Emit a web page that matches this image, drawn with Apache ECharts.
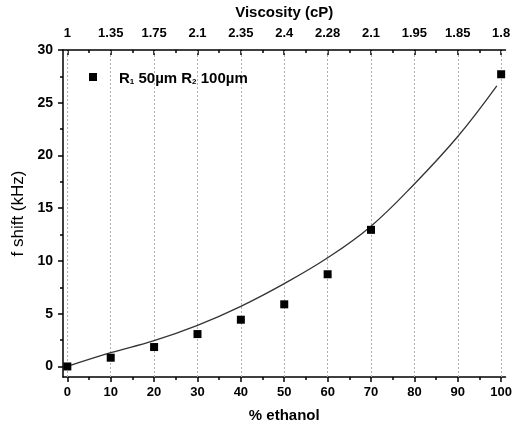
<!DOCTYPE html>
<html>
<head>
<meta charset="utf-8">
<script src="https://cdn.jsdelivr.net/npm/echarts@6/dist/echarts.min.js"></script>
<style>
html,body{margin:0;padding:0;background:#fff;}
#chart{width:515px;height:428px;}
</style>
</head>
<body>
<div id="chart"></div>
<script>
// ---- data ----
const ethanolTicks = [0, 10, 20, 30, 40, 50, 60, 70, 80, 90, 100];
const viscosityLabels = ['1', '1.35', '1.75', '2.1', '2.35', '2.4', '2.28', '2.1', '1.95', '1.85', '1.8'];
const minorXTicks = [5, 15, 25, 35, 45, 55, 65, 75, 85, 95];
const yTicks = [0, 5, 10, 15, 20, 25, 30];
const minorYTicks = [2.5, 7.5, 12.5, 17.5, 22.5, 27.5];
const measuredX = [0, 10, 20, 30, 40, 50, 60, 70, 100];
const measuredShift = [0, 0.83, 1.84, 3.07, 4.43, 5.89, 8.74, 12.95, 27.7];
const fitX = [0, 10, 20, 30, 40, 50, 60, 70, 80, 90, 99];
const fitShift = [0, 1.3, 2.45, 3.9, 5.7, 7.85, 10.3, 13.3, 17.3, 21.8, 26.6];
const seriesName = 'R1 50µm R2 100µm';

const font = 'Liberation Sans, Arial, sans-serif';
const black = '#000';
const axisLineStyle = { color: black, width: 1.5 };

const chart = echarts.init(document.getElementById('chart'), null, { renderer: 'canvas' });

const xBase = { type: 'value', min: -1, max: 101, splitLine: { show: false } };
const yBase = { type: 'value', min: -1, max: 30, splitLine: { show: false } };

chart.setOption({
  animation: false,
  backgroundColor: '#fff',
  grid: { left: 63, right: 8, top: 50, bottom: 51 },
  legend: {
    data: [seriesName],
    left: 84,
    top: 66,
    icon: 'rect',
    itemWidth: 8,
    itemHeight: 8,
    itemStyle: { opacity: 1, color: '#000' },
    formatter: function () {
      return '{b0|R}{s|1}{b| 50µm R}{s|2}{b| 100µm}';
    },
    textStyle: {
      fontFamily: font,
      rich: {
        b0: { fontFamily: font, fontSize: 15, fontWeight: 'bold', color: black, padding: [0, 0, 0, 17], verticalAlign: 'bottom', lineHeight: 18 },
        b: { fontFamily: font, fontSize: 15, fontWeight: 'bold', color: black, verticalAlign: 'bottom', lineHeight: 18 },
        s: { fontFamily: font, fontSize: 8, fontWeight: 'bold', color: black, verticalAlign: 'bottom', lineHeight: 17 }
      }
    }
  },
  xAxis: [
    Object.assign({}, xBase, {
      position: 'bottom',
      axisLine: { show: true, onZero: false, lineStyle: axisLineStyle },
      axisTick: { show: true, customValues: ethanolTicks, length: 5, inside: false, lineStyle: axisLineStyle },
      axisLabel: { customValues: ethanolTicks, margin: 9, fontFamily: font, fontSize: 13, fontWeight: 'bold', color: black },
      name: '% ethanol',
      nameLocation: 'middle',
      nameGap: 31,
      nameTextStyle: { fontFamily: font, fontSize: 15, fontWeight: 'bold', color: black }
    }),
    Object.assign({}, xBase, {
      position: 'bottom',
      axisLine: { show: false, onZero: false },
      axisTick: { show: true, customValues: minorXTicks, length: 3, inside: false, lineStyle: axisLineStyle },
      axisLabel: { show: false }
    }),
    Object.assign({}, xBase, {
      position: 'top',
      axisLine: { show: true, onZero: false, lineStyle: axisLineStyle },
      axisTick: { show: true, customValues: ethanolTicks, length: 5, inside: true, lineStyle: axisLineStyle },
      axisLabel: {
        customValues: ethanolTicks, margin: 10, fontFamily: font, fontSize: 13, fontWeight: 'bold', color: black,
        formatter: function (v) { const i = ethanolTicks.indexOf(Math.round(v)); return i >= 0 ? viscosityLabels[i] : ''; }
      },
      name: 'Viscosity (cP)',
      nameLocation: 'middle',
      nameGap: 30,
      nameTextStyle: { fontFamily: font, fontSize: 15, fontWeight: 'bold', color: black }
    }),
    Object.assign({}, xBase, {
      position: 'top',
      axisLine: { show: false, onZero: false },
      axisTick: { show: true, customValues: minorXTicks, length: 3, inside: true, lineStyle: axisLineStyle },
      axisLabel: { show: false }
    })
  ],
  yAxis: [
    Object.assign({}, yBase, {
      position: 'left',
      axisLine: { show: true, onZero: false, lineStyle: axisLineStyle },
      axisTick: { show: true, customValues: yTicks, length: 5, inside: false, lineStyle: axisLineStyle },
      axisLabel: { customValues: yTicks, margin: 10, fontFamily: font, fontSize: 14, fontWeight: 'bold', color: black },
      name: 'f shift (kHz)',
      nameLocation: 'middle',
      nameGap: 35,
      nameTextStyle: { fontFamily: font, fontSize: 17, fontWeight: 'normal', color: black, padding: [0, 0, 0, 0] }
    }),
    Object.assign({}, yBase, {
      position: 'left',
      axisLine: { show: false, onZero: false },
      axisTick: { show: true, customValues: minorYTicks, length: 3, inside: false, lineStyle: axisLineStyle },
      axisLabel: { show: false }
    })
  ],
  series: [
    {
      name: 'fit',
      type: 'line',
      xAxisIndex: 0,
      yAxisIndex: 0,
      data: fitX.map((x, i) => [x, fitShift[i]]),
      smooth: 0.4,
      showSymbol: false,
      symbol: 'none',
      lineStyle: { color: '#333', width: 1.3 },
      silent: true,
      z: 3,
      markLine: {
        silent: true,
        symbol: ['none', 'none'],
        label: { show: false },
        lineStyle: { type: [2, 2], color: '#b0b0b0', width: 1 },
        data: ethanolTicks.map(v => ({ xAxis: v })),
        z: 1
      }
    },
    {
      name: seriesName,
      type: 'scatter',
      xAxisIndex: 0,
      yAxisIndex: 0,
      data: measuredX.map((x, i) => [x, measuredShift[i]]),
      symbol: 'rect',
      symbolSize: 8,
      itemStyle: { color: '#000', opacity: 1 },
      z: 4
    }
  ]
});
</script>
</body>
</html>
